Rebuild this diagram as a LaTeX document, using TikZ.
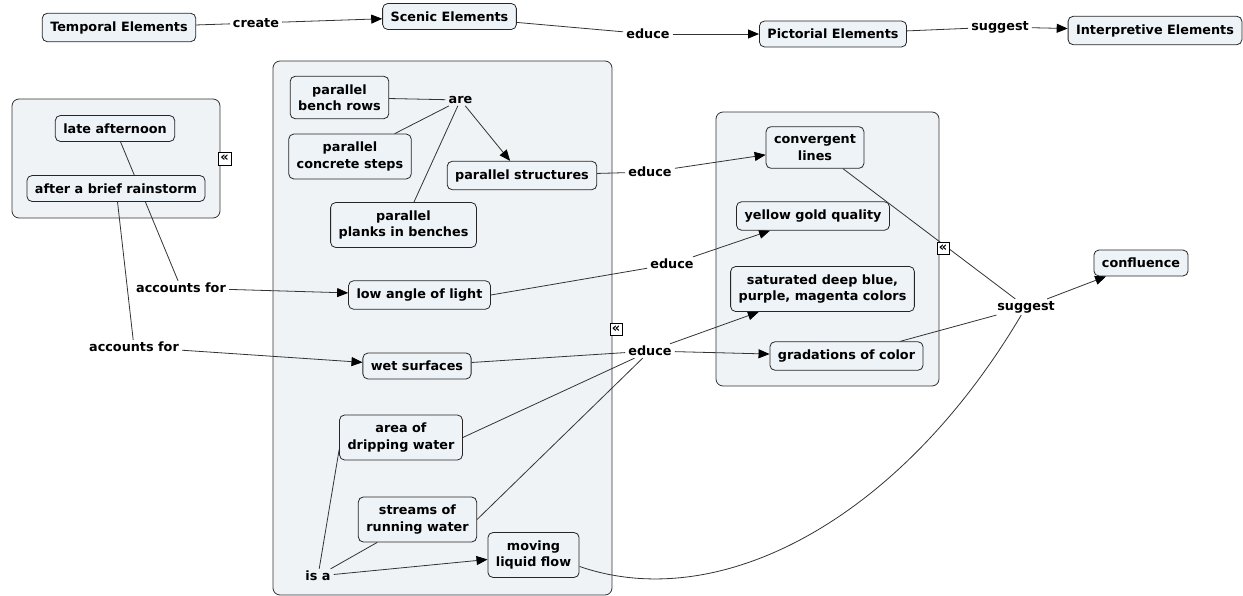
\documentclass[tikz,border=0pt]{standalone}
\usepackage{fontspec}
\setmainfont{DejaVu Sans}
\usetikzlibrary{positioning,arrows.meta}
\definecolor{conceptfill}{HTML}{EEF3F7}
\definecolor{groupfill}{HTML}{EFF3F6}
\pgfdeclarelayer{background}
\pgfdeclarelayer{links}
\pgfsetlayers{background,links,main}
\tikzset{%
  concept/.style={
    draw=black!85, fill=conceptfill, rounded corners=5pt,
    line width=0.8pt, align=center, inner xsep=8pt, inner ysep=8pt,
    font=\fontsize{12.8}{16.5}\selectfont\bfseries
  },
  linkword/.style={
    inner xsep=3pt, inner ysep=2pt,
    font=\fontsize{12.8}{16.5}\selectfont\bfseries
  },
  group/.style={draw=black!80, fill=groupfill, rounded corners=7pt, line width=0.8pt},
  collapse/.style={draw, fill=white, inner sep=0pt, minimum size=12.5pt,
    font=\fontsize{13}{13}\selectfont\bfseries},
  link/.style={draw=black!80, line width=0.8pt},
}

\begin{document}
\begin{tikzpicture}[x=1pt, y=-1pt, >={Triangle[length=11pt,width=9pt,color=black]}]

\useasboundingbox (0,0) rectangle (1243,596);

% top row
\node [concept] (temporal) at (119,27.5) {Temporal Elements};
\node [concept] (scenic) at (449.5,16.5) {Scenic Elements};
\node [concept] (pictorial) at (833,34) {Pictorial Elements};
\node [concept] (interpretive) at (1155,30.5) {Interpretive Elements};

\node [linkword] (create) at (256,23) {create};
\node [linkword] (educe-top) at (648,34) {educe};
\node [linkword] (suggest-top) at (1000,27) {suggest};

% time of day
\node [concept] (late) at (115,128.5) {late afternoon};
\node [concept] (rain) at (116,188.5) {after a brief rainstorm};
\node [linkword] (accounts-1) at (181,288) {accounts for};
\node [linkword] (accounts-2) at (134,347) {accounts for};

% scene
\node [concept] (bench) at (339.5,97.5) {parallel\\bench rows};
\node [linkword] (are) at (460.5,100) {are};
\node [concept] (concrete) at (350,156.5) {parallel\\concrete steps};
\node [concept] (structures) at (522,175.5) {parallel structures};
\node [concept] (planks) at (403.5,225) {parallel\\planks in benches};
\node [concept] (lowangle) at (419.5,295) {low angle of light};
\node [concept] (wet) at (417,366) {wet surfaces};
\node [concept] (drip) at (401,437.5) {area of\\dripping water};
\node [concept] (streams) at (417.5,519.5) {streams of\\running water};
\node [concept] (moving) at (533.5,555) {moving\\liquid flow};
\node [linkword] (isa) at (318,576) {is a};

% picture
\node [linkword] (educe-a) at (650,172) {educe};
\node [linkword] (educe-b) at (672,264) {educe};
\node [linkword] (educe-c) at (650,351) {educe};
\node [concept] (conv) at (815,147.5) {convergent\\lines};
\node [concept] (yellow) at (813,216) {yellow gold quality};
\node [concept] (saturated) at (822.5,289) {saturated deep blue,\\purple, magenta colors};
\node [concept] (gradations) at (846.5,356) {gradations of color};

\node [linkword] (suggest) at (1026,307) {suggest};
\node [concept] (confluence) at (1141,263) {confluence};

% folded groups
\node [collapse] (fold-1) at (224.5,158.5) {«};
\node [collapse] (fold-2) at (616,329) {«};
\node [collapse] (fold-3) at (943,248) {«};

%%%%%%%%%%%%%%%%%%%%%%%%%%%%%%%%%%%%%%%%%%%%%%%%%%%%%%%%%%%%%%%%%%%%%%%%%%%%%
% groups

\begin{pgfonlayer}{background}
\node [group, minimum width=208pt, minimum height=119pt] (time-group) at (116,158.5) {};
\node [group, minimum width=339pt, minimum height=534pt] (scene-group) at (442.5,328) {};
\node [group, minimum width=223pt, minimum height=274pt] (picture-group) at (827.5,249) {};
\end{pgfonlayer}

%%%%%%%%%%%%%%%%%%%%%%%%%%%%%%%%%%%%%%%%%%%%%%%%%%%%%%%%%%%%%%%%%%%%%%%%%%%%%
% connections

\begin{pgfonlayer}{links}
\foreach \a/\b in {temporal/create, scenic/educe-top, pictorial/suggest-top,
    late/accounts-1, rain/accounts-2, bench/are, concrete/are, planks/are,
    structures/educe-a, lowangle.east/educe-b, wet/educe-c, drip.east/educe-c,
    streams.east/educe-c, conv/suggest, gradations/suggest,
    isa/drip.191, isa/streams}
  \draw [link] (\a) -- (\b);

\foreach \a/\b in {create/scenic, educe-top/pictorial, suggest-top/interpretive,
    accounts-1/lowangle, accounts-2/wet, are/structures, educe-a/conv,
    educe-b/yellow, educe-c/saturated, educe-c/gradations, isa/moving,
    suggest/confluence}
  \draw [link,->] (\a) -- (\b);

\draw [link] (moving.-14) .. controls (720,615) and (900,520) .. (suggest);
\end{pgfonlayer}

\end{tikzpicture}
\end{document}
